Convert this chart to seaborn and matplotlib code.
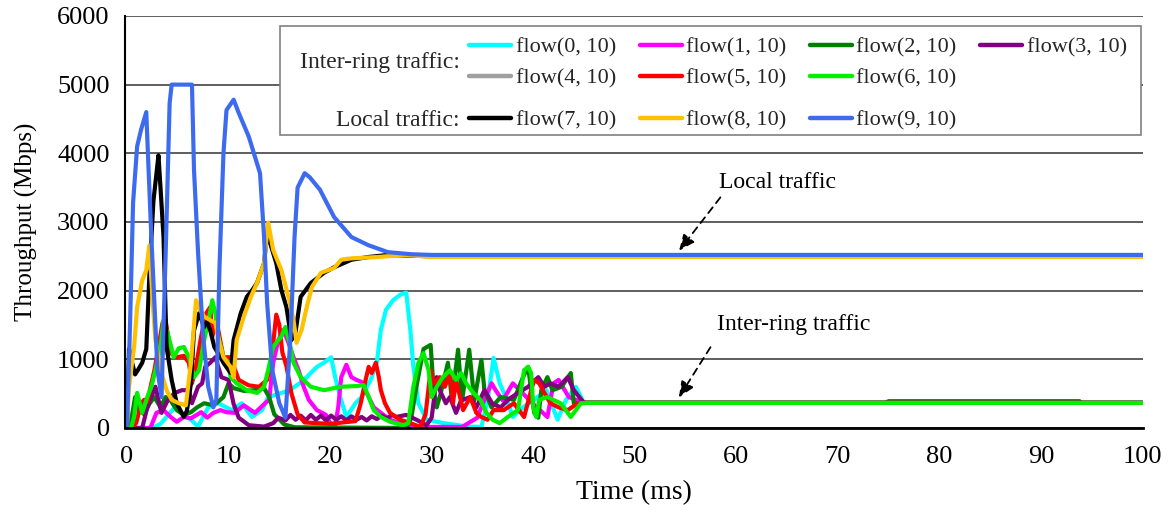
import numpy as np
import matplotlib
matplotlib.use("Agg")
import matplotlib.pyplot as plt
from matplotlib.lines import Line2D
from matplotlib.patches import Rectangle
import seaborn as sns
import pandas as pd

# Flow names, colours
flows = ["flow(0, 10)", "flow(1, 10)", "flow(2, 10)", "flow(3, 10)", "flow(4, 10)",
         "flow(5, 10)", "flow(6, 10)", "flow(7, 10)", "flow(8, 10)", "flow(9, 10)"]
colors = ["#00FFFF", "#FF00FF", "#008000", "#800080", "#A0A0A0",
          "#FF0000", "#00F000", "#000000", "#FFC000", "#3D6BF0"]

# Values: time (ms) and throughput (Mbps) per flow
t0 = [0, 2.5, 3.3, 3.9, 4.7, 5.5, 6.3, 7.0, 8.0, 9.0, 10.3, 11.3, 12.3, 13.3, 13.9, 15.0, 16.0,
      17.0, 17.7, 18.7, 19.4, 20.1, 20.5, 21.0, 21.6, 22.5, 23.1, 24.0, 24.6, 25.0, 25.5, 26.2,
      26.9, 27.5, 27.9, 28.2, 28.7, 29.5, 31.2, 33.6, 34.9, 35.5, 36.1, 36.7, 37.3, 38.0, 39.0,
      40.0, 41.3, 42.4, 43.2, 44.2, 45.0, 100]
v0 = [0, 0, 60, 160, 300, 200, 120, 20, 300, 360, 260, 360, 160, 260, 450, 500, 550,
      650, 740, 890, 950, 1030, 740, 450, 160, 360, 450, 700, 950, 1430, 1720, 1860,
      1940, 1970, 1430, 890, 360, 120, 70, 20, 15, 400, 1020, 650, 450, 160, 300,
      400, 550, 120, 400, 600, 365, 365]

t1 = [0, 2.3, 2.9, 3.6, 4.3, 4.9, 5.6, 6.3, 7.3, 7.9, 8.5, 9.2, 9.8, 10.6, 11.5, 12.6, 13.6,
      14.0, 14.4, 14.9, 15.4, 15.9, 16.4, 16.9, 17.4, 17.9, 18.7, 19.6, 20.0, 20.5, 20.8, 21.1,
      21.6, 22.1, 22.6, 23.1, 23.6, 24.3, 25.0, 25.9, 26.9, 28.5, 33.0, 34.5, 35.3, 35.9, 36.3,
      37.0, 38.0, 39.0, 40.0, 41.4, 42.0, 42.5, 43.5, 45.0, 100]
v1 = [0, 0, 220, 260, 160, 90, 160, 140, 230, 150, 220, 260, 230, 220, 330, 220, 360,
      410, 950, 1280, 1430, 1240, 1030, 840, 600, 410, 260, 190, 70, 40, 300, 740,
      920, 740, 700, 670, 510, 300, 220, 120, 70, 15, 15, 150, 450, 650, 550,
      400, 650, 500, 350, 160, 650, 700, 450, 365, 365]

t2 = [0, 0.4, 0.8, 1.2, 1.7, 2.2, 2.7, 3.3, 3.8, 4.3, 4.9, 5.6, 6.3, 6.9, 7.6, 8.2, 8.8, 9.5,
      10.0, 10.5, 11.5, 12.5, 13.5, 14.0, 14.5, 15.5, 16.5, 27.5, 28.0, 28.5, 29.2, 29.9, 30.2,
      30.5, 30.9, 31.6, 32.0, 32.6, 33.0, 33.7, 34.2, 34.9, 35.2, 35.9, 36.8, 38.1, 39.0, 39.5,
      40.1, 40.5, 40.8, 41.4, 41.9, 42.8, 43.7, 44.0, 45.0, 74.7, 75.0, 93.8, 94.0, 100]
v2 = [0, 100, 450, 250, 200, 350, 450, 300, 450, 400, 260, 190, 230, 300, 360, 340, 360, 450,
      650, 580, 540, 550, 580, 450, 200, 50, 10, 0, 150, 600, 1150, 1210, 550,
      300, 510, 950, 400, 1140, 400, 1140, 400, 990, 550, 300, 450, 410, 740, 890,
      220, 150, 550, 740, 550, 600, 800, 360, 370, 370, 390, 390, 370, 370]

t3 = [0, 1.5, 2.0, 2.4, 2.8, 3.4, 4.0, 4.7, 5.4, 6.1, 6.4, 7.0, 7.4, 7.7, 8.2, 8.7, 9.3, 10.0,
      10.5, 11.0, 12.0, 13.5, 14.4, 14.9, 15.6, 16.1, 16.6, 17.1, 17.6, 18.1, 18.6, 19.1, 19.6,
      20.1, 20.6, 21.1, 21.6, 22.1, 22.6, 23.1, 23.6, 24.1, 24.6, 25.1, 25.6, 26.1, 26.5, 27.5,
      28.5, 29.5, 30.0, 30.5, 30.8, 31.4, 31.8, 32.4, 32.9, 33.8, 34.4, 35.2, 36.0, 36.8, 37.6,
      38.5, 39.5, 40.5, 41.1, 41.7, 42.5, 43.4, 44.0, 45.0, 100]
v3 = [0, 0, 300, 450, 600, 220, 400, 510, 550, 550, 360, 600, 650, 890, 950, 1030, 740, 700,
      350, 150, 40, 20, 70, 150, 110, 190, 120, 180, 110, 190, 120, 180, 110,
      180, 120, 170, 110, 170, 120, 160, 110, 170, 130, 180, 140, 190, 160, 190,
      120, 40, 150, 740, 550, 360, 450, 220, 400, 450, 300, 550, 350, 300, 420,
      510, 600, 740, 600, 650, 600, 740, 550, 365, 365]

t4 = [44.5, 100]
v4 = [365, 365]

t5 = [0, 0.5, 0.9, 1.4, 1.7, 2.0, 2.4, 2.7, 3.0, 3.5, 3.8, 4.3, 4.9, 5.6, 6.1, 6.4, 6.8, 7.3,
      7.8, 8.2, 8.4, 8.8, 9.5, 10.2, 11.0, 12.0, 13.0, 13.8, 14.3, 14.7, 15.0, 15.3, 15.7, 16.2,
      16.8, 17.5, 20.0, 22.5, 23.0, 23.5, 23.8, 24.1, 24.5, 24.8, 25.0, 25.4, 25.9, 26.9, 27.9,
      28.9, 29.4, 29.9, 30.2, 30.8, 31.3, 31.8, 32.1, 32.4, 33.1, 33.8, 34.4, 34.9, 35.5, 36.1,
      37.1, 38.1, 39.1, 39.8, 40.1, 40.6, 41.1, 41.7, 42.5, 43.4, 44.4, 45.0, 100]
v5 = [0, 0, 70, 360, 410, 380, 650, 840, 1090, 1530, 1570, 1090, 1030, 1050, 950, 650, 900, 1330,
      1670, 1760, 1330, 1570, 1030, 1030, 700, 620, 600, 700, 1100, 1650, 1500, 1100, 900, 500,
      200, 80, 60, 100, 350, 700, 890, 800, 950, 740, 550, 360, 220, 120, 70,
      15, 200, 840, 650, 740, 600, 800, 360, 700, 260, 450, 220, 160, 120, 260,
      260, 360, 160, 550, 700, 650, 510, 360, 300, 260, 360, 365, 365]

t6 = [0, 0.4, 0.7, 1.0, 1.5, 2.0, 2.4, 2.8, 3.3, 3.6, 4.1, 4.6, 5.1, 5.6, 6.1, 6.6, 7.1, 7.6,
      8.1, 8.4, 8.7, 9.0, 9.5, 10.0, 10.2, 10.8, 11.8, 12.8, 13.5, 13.9, 14.4, 14.7, 15.2, 15.6,
      16.0, 16.4, 17.1, 18.1, 19.4, 21.0, 22.6, 23.3, 23.8, 24.3, 25.0, 25.9, 27.2, 27.7, 28.2,
      28.7, 29.2, 29.7, 30.0, 30.5, 31.1, 31.8, 32.4, 32.9, 33.4, 34.1, 34.8, 35.4, 36.0, 36.7,
      37.5, 38.5, 39.1, 39.5, 39.8, 40.0, 40.3, 40.6, 41.4, 42.7, 43.7, 44.7, 45.5, 100]
v6 = [0, 0, 160, 510, 220, 450, 600, 840, 1180, 1570, 1330, 1030, 1160, 1180, 1030, 740, 840, 1280,
      1620, 1860, 1670, 1330, 1030, 950, 740, 650, 550, 510, 600, 840, 1180, 1240, 1330, 1470,
      1250, 950, 740, 600, 550, 600, 610, 625, 450, 260, 160, 90, 40, 70, 600,
      950, 1090, 840, 450, 600, 740, 840, 700, 800, 650, 510, 410, 220, 120, 70,
      160, 260, 840, 890, 800, 300, 160, 410, 450, 360, 160, 360, 365, 365]

t7 = [0, 0.2, 0.5, 0.8, 1.1, 1.5, 1.9, 2.2, 2.6, 2.9, 3.1, 3.3, 3.6, 3.9, 4.4, 4.9, 5.6, 5.9,
      6.3, 6.6, 7.1, 7.6, 7.9, 8.2, 8.6, 9.2, 9.5, 10.2, 10.5, 11.2, 11.8, 12.3, 12.8, 13.5,
      13.8, 14.1, 14.7, 15.2, 15.7, 16.2, 16.6, 17.1, 18.1, 19.4, 20.4, 22.1, 23.8, 25.7, 30.0, 100]
v7 = [0, 1150, 950, 780, 850, 950, 1150, 2200, 3300, 3700, 3970, 3500, 2780, 1180, 700, 360, 160, 250,
      650, 1420, 1670, 1470, 1550, 1420, 1180, 1030, 950, 800, 1280, 1670, 1910, 2000, 2110, 2400,
      2840, 2690, 2400, 2010, 1760, 1280, 1400, 1910, 2110, 2260, 2340, 2450, 2490, 2520, 2500, 2500]

t8 = [0, 0.2, 0.7, 1.0, 1.5, 1.9, 2.2, 2.5, 2.8, 3.3, 3.9, 4.4, 5.1, 5.8, 6.3, 6.8, 7.1, 7.6,
      8.2, 8.7, 9.1, 9.5, 10.2, 10.5, 10.8, 11.5, 12.2, 12.8, 13.5, 13.9, 14.4, 15.2, 15.9, 16.4,
      16.7, 17.2, 17.7, 18.2, 19.1, 20.4, 21.1, 22.1, 24.7, 27.3, 30.0, 100]
v8 = [0, 600, 1180, 1760, 2150, 2300, 2660, 1910, 1280, 840, 550, 410, 360, 330, 950, 1860, 1750, 1620,
      1570, 1530, 1240, 1030, 890, 740, 1280, 1620, 1910, 2110, 2400, 2990, 2590, 2300, 1910, 1570,
      1240, 1430, 1760, 2050, 2260, 2330, 2450, 2470, 2490, 2520, 2490, 2490]

t9 = [0, 0.3, 0.6, 1.0, 1.4, 1.9, 2.1, 2.4, 2.7, 3.0, 3.4, 3.8, 4.2, 4.4, 6.4, 6.6, 7.0, 7.5,
      8.0, 8.5, 8.8, 9.1, 9.5, 9.8, 10.5, 11.0, 12.0, 12.6, 13.1, 13.5, 13.8, 14.3, 15.0, 15.6,
      16.1, 16.5, 16.8, 17.5, 18.0, 19.0, 20.4, 22.1, 23.8, 25.7, 28.0, 30.0, 100]
v9 = [0, 1500, 3280, 4100, 4350, 4600, 3860, 2780, 1820, 845, 450, 2500, 4730, 5000, 5000, 3760, 2550, 1330,
      600, 300, 410, 2300, 4000, 4630, 4780, 4590, 4240, 3950, 3710, 2780, 1820, 845, 360, 150,
      1330, 2780, 3500, 3710, 3650, 3470, 3070, 2780, 2660, 2560, 2530, 2520, 2520]

times = [t0, t1, t2, t3, t4, t5, t6, t7, t8, t9]
values = [v0, v1, v2, v3, v4, v5, v6, v7, v8, v9]

df = pd.concat([pd.DataFrame({"Time": t, "Throughput": v, "flow": f})
                for t, v, f in zip(times, values, flows)], ignore_index=True)

sns.set_theme(style="white")
plt.rcParams["font.family"] = ["Liberation Serif", "DejaVu Serif"]

fig = plt.figure(figsize=(11.71, 5.15), dpi=100)
ax = fig.add_axes([0.1067, 0.169, 0.869, 0.8])

sns.lineplot(data=df, x="Time", y="Throughput", hue="flow", hue_order=flows,
             palette=dict(zip(flows, colors)), estimator=None, sort=False,
             linewidth=3.0, legend=False, ax=ax,
             solid_joinstyle="round", solid_capstyle="round")

ax.set_xlim(-0.2, 100)
ax.set_ylim(0, 6000)
ax.set_xticks(range(0, 101, 10))
ax.set_yticks(range(0, 6001, 1000))
ax.yaxis.grid(True, color="#333333", linewidth=1.1)
ax.xaxis.grid(False)
ax.set_axisbelow(True)
for s in ["top", "right"]:
    ax.spines[s].set_visible(False)
ax.spines["left"].set_color("black")
ax.spines["left"].set_linewidth(1.5)
ax.spines["bottom"].set_color("black")
ax.spines["bottom"].set_linewidth(2)
ax.tick_params(axis="x", direction="in", length=6, width=1.2, labelsize=19, pad=13, colors="black")
ax.tick_params(axis="y", length=0, labelsize=19, pad=11, colors="black")
ax.set_xlabel("Time (ms)", fontsize=20, color="black", labelpad=9)
ax.set_ylabel("Throughput (Mbps)", fontsize=18, color="black", labelpad=14)

# Annotations
ax.annotate("", xy=(54.2, 2550), xytext=(58.6, 3390),
            arrowprops=dict(arrowstyle="-|>,head_length=0.8,head_width=0.35", color="black",
                            lw=1.3, linestyle=(0, (4, 3))))
ax.text(64.1, 3580, "Local traffic", fontsize=17, ha="center", va="center", color="black")
ax.annotate("", xy=(54.2, 410), xytext=(57.6, 1210),
            arrowprops=dict(arrowstyle="-|>,head_length=0.8,head_width=0.35", color="black",
                            lw=1.3, linestyle=(0, (4, 3))))
ax.text(65.6, 1500, "Inter-ring traffic", fontsize=17, ha="center", va="center", color="black")

# Legend box
ax.add_patch(Rectangle((0.152, 0.711), 0.846, 0.265, transform=ax.transAxes,
                       facecolor="white", edgecolor="#808080", lw=1.2, zorder=5))
ax.text(0.329, 0.888, "Inter-ring traffic:", transform=ax.transAxes, ha="right", va="center",
        fontsize=17, zorder=6)
ax.text(0.329, 0.747, "Local traffic:", transform=ax.transAxes, ha="right", va="center",
        fontsize=17, zorder=6)

handles = [Line2D([], [], color=c, lw=3.2) for c in colors]
order1 = [0, 4, 1, 5, 2, 6, 3]
leg1 = ax.legend([handles[i] for i in order1], [flows[i] for i in order1], ncol=4,
                 loc="upper left", bbox_to_anchor=(0.334, 0.960), frameon=False, fontsize=16,
                 handlelength=1.9, handletextpad=0.2, columnspacing=1.05, labelspacing=0.48,
                 borderaxespad=0, borderpad=0.2)
leg1.set_zorder(7)
ax.add_artist(leg1)
leg2 = ax.legend(handles[7:], flows[7:], ncol=4, loc="upper left", bbox_to_anchor=(0.334, 0.783),
                 frameon=False, fontsize=16, handlelength=1.9, handletextpad=0.2,
                 columnspacing=1.05, borderaxespad=0, borderpad=0.2)
leg2.set_zorder(7)

fig.savefig("out.png", dpi=100)
